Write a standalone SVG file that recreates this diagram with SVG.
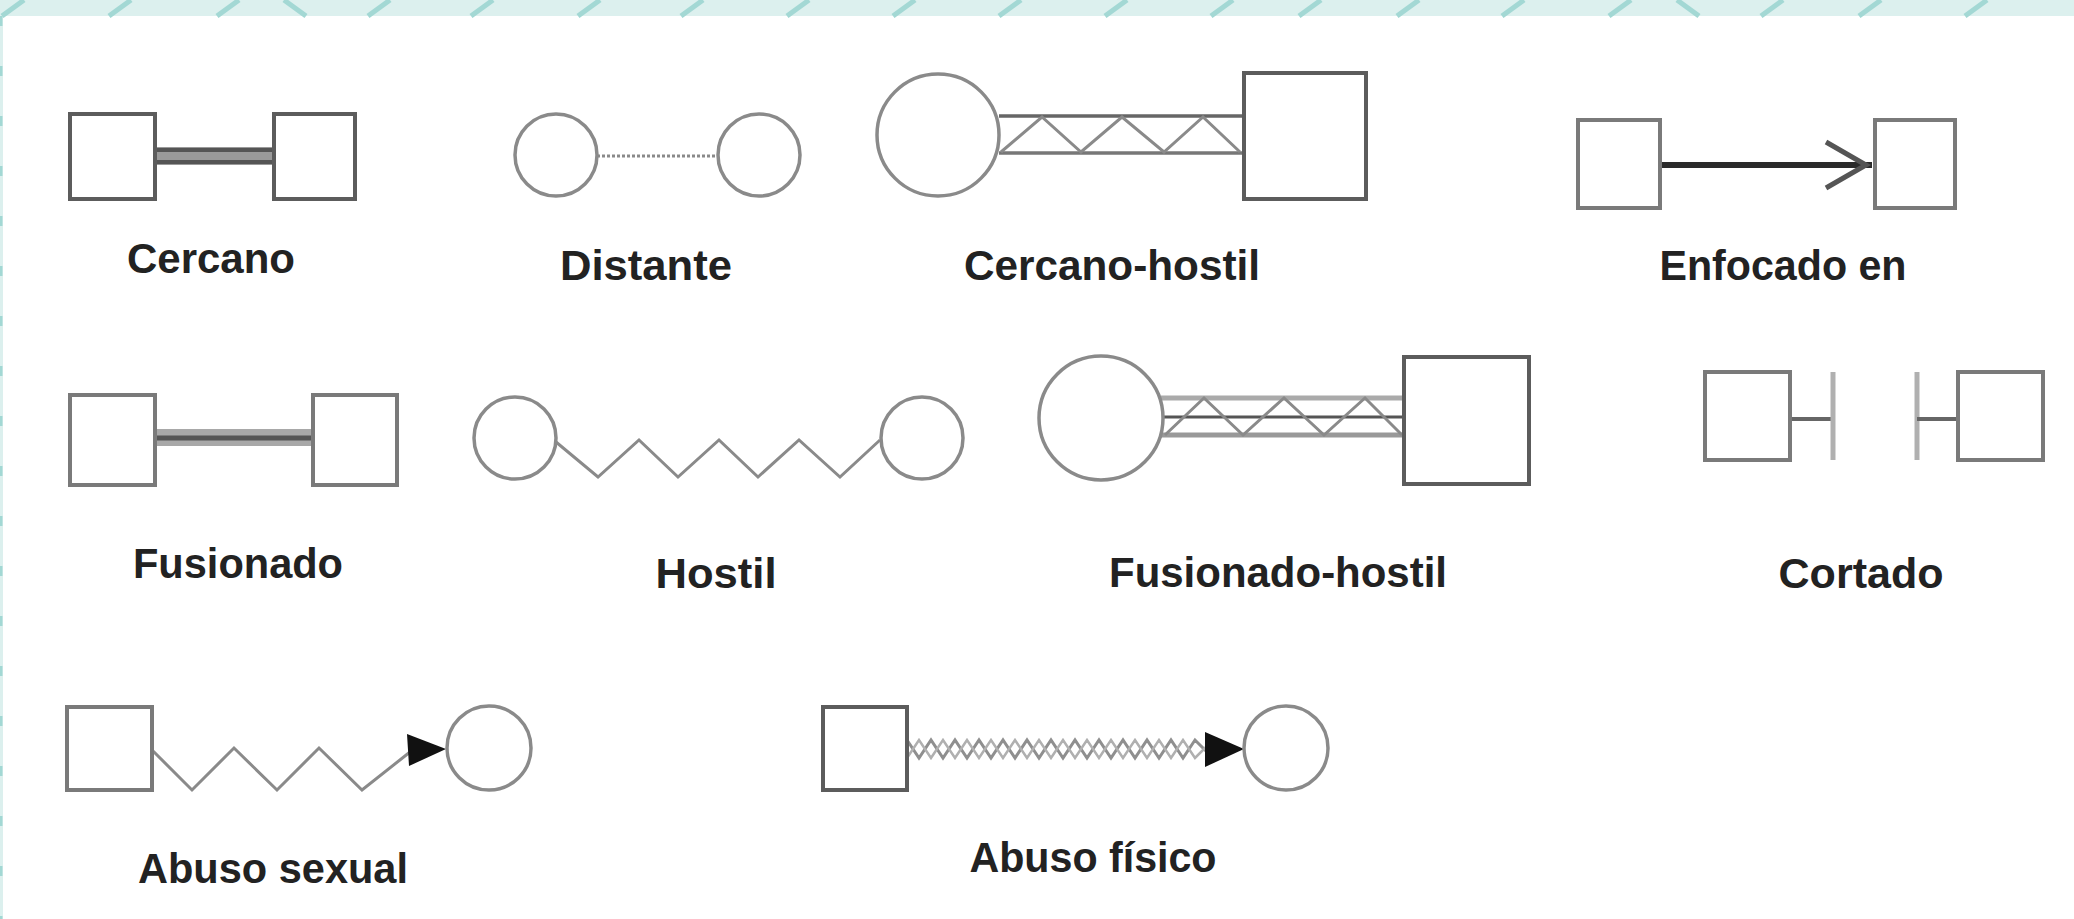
<svg xmlns="http://www.w3.org/2000/svg" width="2074" height="919" viewBox="0 0 2074 919">
<style>
.sq{fill:#fff;stroke:#5c5c5c;stroke-width:4}
.sql{fill:#fff;stroke:#7a7a7a;stroke-width:4}
.ci{fill:#fff;stroke:#8a8a8a;stroke-width:3.5}
.ln{fill:none;stroke:#8a8a8a;stroke-width:3;stroke-linejoin:miter}
.lbl{font-family:"Liberation Sans",Arial,sans-serif;font-weight:bold;font-size:42px;fill:#222;text-anchor:middle}
.st{stroke:#a3d8d4;stroke-width:5;fill:none}
</style>
<defs>
<path id="fw" d="M-11,16 L11,0"/>
<path id="bw" d="M-11,0 L11,16"/>
</defs>
<rect x="0" y="0" width="2074" height="919" fill="#fff"/>
<g id="band">
<rect x="0" y="0" width="2074" height="16" fill="#dcf0ee"/>
<rect x="0" y="0" width="3" height="919" fill="#dcf0ee"/>
<line x1="1" y1="16" x2="1" y2="919" stroke="#a3d8d4" stroke-width="3" stroke-dasharray="10 40"/>
<g class="st">
<use href="#fw" x="13"/><use href="#fw" x="120"/><use href="#fw" x="228"/><use href="#bw" x="295"/>
<use href="#fw" x="379"/><use href="#fw" x="482"/><use href="#fw" x="589"/><use href="#fw" x="692"/>
<use href="#fw" x="798"/><use href="#fw" x="904"/><use href="#fw" x="1010"/><use href="#fw" x="1116"/>
<use href="#fw" x="1222"/><use href="#fw" x="1310"/>
<use href="#fw" x="1408"/><use href="#fw" x="1513"/><use href="#fw" x="1620"/><use href="#bw" x="1688"/>
<use href="#fw" x="1772"/><use href="#fw" x="1870"/><use href="#fw" x="1976"/>
</g>
</g>
<g id="connectors">
<g id="con-cercano">
<rect x="155" y="147" width="119" height="18" fill="#9a9a9a"/>
<line x1="155" y1="150" x2="274" y2="150" stroke="#555" stroke-width="4"/>
<line x1="155" y1="162" x2="274" y2="162" stroke="#555" stroke-width="4"/>
</g>
<line id="con-distante" x1="597" y1="156" x2="718" y2="156" stroke="#8a8a8a" stroke-width="3" stroke-dasharray="3 2"/>
<g id="con-cercano-hostil">
<line x1="999" y1="116" x2="1244" y2="116" stroke="#666" stroke-width="3.5"/>
<line x1="999" y1="153" x2="1244" y2="153" stroke="#777" stroke-width="3.5"/>
<path class="ln" stroke="#777" d="M1001,152 L1042,117 L1081,152 L1122,117 L1164,152 L1203,117 L1240,152"/>
</g>
<g id="con-enfocado">
<line x1="1661" y1="165" x2="1872" y2="165" stroke="#2a2a2a" stroke-width="6"/>
<path d="M1826,142 L1866,165 L1826,188" fill="none" stroke="#555" stroke-width="5"/>
</g>
<g id="con-fusionado">
<rect x="155" y="429" width="158" height="17" fill="#a8a8a8"/>
<line x1="155" y1="438" x2="313" y2="438" stroke="#555" stroke-width="5"/>
</g>
<path id="con-hostil" class="ln" d="M556,442 L598,477 L639,440 L678,477 L719,440 L758,477 L799,440 L840,477 L880,440"/>
<g id="con-fusionado-hostil">
<line x1="1161" y1="398" x2="1404" y2="398" stroke="#aaa" stroke-width="5"/>
<line x1="1161" y1="417" x2="1415" y2="417" stroke="#555" stroke-width="3"/>
<line x1="1161" y1="435" x2="1404" y2="435" stroke="#999" stroke-width="5"/>
<path class="ln" stroke="#666" d="M1165,435 L1204,398 L1243,435 L1284,398 L1324,435 L1365,398 L1402,435"/>
</g>
<g id="con-cortado">
<line x1="1790" y1="419" x2="1833" y2="419" stroke="#666" stroke-width="4"/>
<line x1="1833" y1="372" x2="1833" y2="460" stroke="#b0b0b0" stroke-width="5"/>
<line x1="1917" y1="372" x2="1917" y2="460" stroke="#b0b0b0" stroke-width="5"/>
<line x1="1917" y1="419" x2="1958" y2="419" stroke="#666" stroke-width="4"/>
</g>
<g id="con-abuso-sexual">
<path class="ln" d="M152,750 L192,790 L234,748 L277,790 L319,748 L362,790 L410,752"/>
<polygon points="407,734 446,749 409,766" fill="#111"/>
</g>
<g id="con-abuso-fisico">
<path fill="none" stroke="#8f8f8f" stroke-width="3" d="M907,740 L919,758 L931,740 L943,758 L955,740 L967,758 L979,740 L991,758 L1003,740 L1015,758 L1027,740 L1039,758 L1051,740 L1063,758 L1075,740 L1087,758 L1099,740 L1111,758 L1123,740 L1135,758 L1147,740 L1159,758 L1171,740 L1183,758 L1195,740 L1207,752"/>
<path fill="none" stroke="#b0b0b0" stroke-width="2.5" d="M907,758 L919,740 L931,758 L943,740 L955,758 L967,740 L979,758 L991,740 L1003,758 L1015,740 L1027,758 L1039,740 L1051,758 L1063,740 L1075,758 L1087,740 L1099,758 L1111,740 L1123,758 L1135,740 L1147,758 L1159,740 L1171,758 L1183,740 L1195,758 L1207,746"/>
<polygon points="1205,732 1244,749 1205,767" fill="#111"/>
</g>
</g>
<g id="nodes">
<g id="cercano-a"><rect class="sq" x="70" y="114" width="85" height="85"/></g>
<g id="cercano-b"><rect class="sq" x="274" y="114" width="81" height="85"/></g>
<g id="distante-a"><circle class="ci" cx="556" cy="155" r="41"/></g>
<g id="distante-b"><circle class="ci" cx="759" cy="155" r="41"/></g>
<g id="cercano-hostil-a"><circle class="ci" cx="938" cy="135" r="61"/></g>
<g id="cercano-hostil-b"><rect class="sq" x="1244" y="73" width="122" height="126"/></g>
<g id="enfocado-a"><rect class="sql" x="1578" y="120" width="82" height="88"/></g>
<g id="enfocado-b"><rect class="sql" x="1875" y="120" width="80" height="88"/></g>
<g id="fusionado-a"><rect class="sql" x="70" y="395" width="85" height="90"/></g>
<g id="fusionado-b"><rect class="sql" x="313" y="395" width="84" height="90"/></g>
<g id="hostil-a"><circle class="ci" cx="515" cy="438" r="41"/></g>
<g id="hostil-b"><circle class="ci" cx="922" cy="438" r="41"/></g>
<g id="fusionado-hostil-a"><circle class="ci" cx="1101" cy="418" r="62"/></g>
<g id="fusionado-hostil-b"><rect class="sq" x="1404" y="357" width="125" height="127"/></g>
<g id="cortado-a"><rect class="sql" x="1705" y="372" width="85" height="88"/></g>
<g id="cortado-b"><rect class="sql" x="1958" y="372" width="85" height="88"/></g>
<g id="abuso-sexual-a"><rect class="sql" x="67" y="707" width="85" height="83"/></g>
<g id="abuso-sexual-b"><circle class="ci" cx="489" cy="748" r="42"/></g>
<g id="abuso-fisico-a"><rect class="sq" x="823" y="707" width="84" height="83"/></g>
<g id="abuso-fisico-b"><circle class="ci" cx="1286" cy="748" r="42"/></g>
</g>
<g id="labels">
<text class="lbl" x="211" y="273" textLength="168" lengthAdjust="spacingAndGlyphs">Cercano</text>
<text class="lbl" x="646" y="280" textLength="172" lengthAdjust="spacingAndGlyphs">Distante</text>
<text class="lbl" x="1112" y="280" textLength="296" lengthAdjust="spacingAndGlyphs">Cercano-hostil</text>
<text class="lbl" x="1783" y="280" textLength="247" lengthAdjust="spacingAndGlyphs">Enfocado en</text>
<text class="lbl" x="238" y="578" textLength="210" lengthAdjust="spacingAndGlyphs">Fusionado</text>
<text class="lbl" x="716" y="588" textLength="121" lengthAdjust="spacingAndGlyphs">Hostil</text>
<text class="lbl" x="1278" y="587" textLength="338" lengthAdjust="spacingAndGlyphs">Fusionado-hostil</text>
<text class="lbl" x="1861" y="588" textLength="165" lengthAdjust="spacingAndGlyphs">Cortado</text>
<text class="lbl" x="273" y="883" textLength="270" lengthAdjust="spacingAndGlyphs">Abuso sexual</text>
<text class="lbl" x="1093" y="872" textLength="247" lengthAdjust="spacingAndGlyphs">Abuso físico</text>
</g>
</svg>
